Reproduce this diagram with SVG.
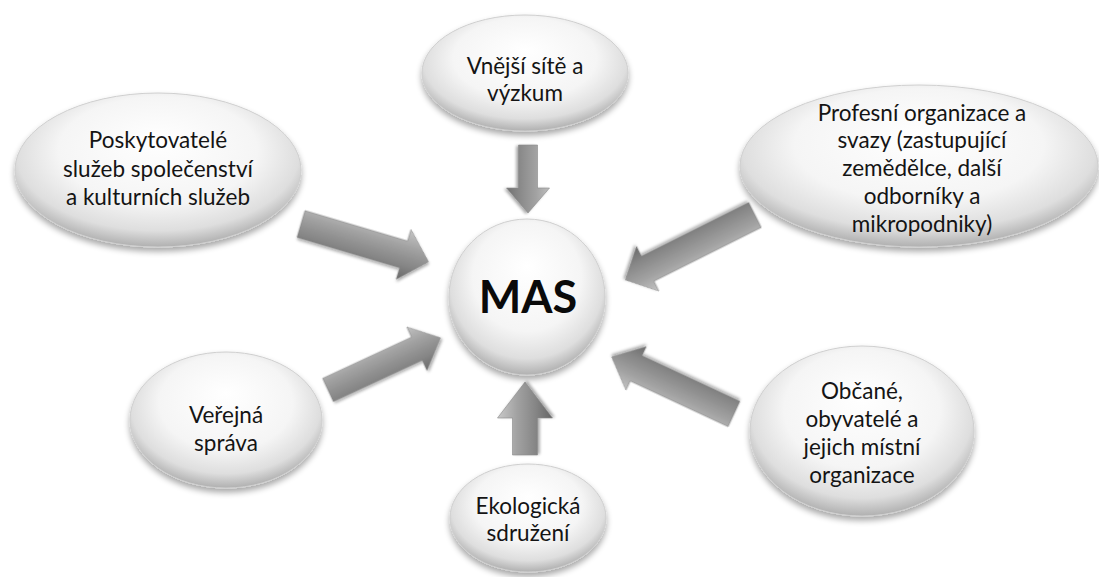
<svg xmlns="http://www.w3.org/2000/svg" width="1099" height="577" viewBox="0 0 1099 577">
<defs>
<radialGradient id="eg" cx="50%" cy="42%" r="58%" fx="50%" fy="30%">
<stop offset="0" stop-color="#ffffff"/>
<stop offset="0.6" stop-color="#f5f5f5"/>
<stop offset="0.85" stop-color="#dedede"/>
<stop offset="1" stop-color="#b0b0b0"/>
</radialGradient>
<linearGradient id="ag" gradientUnits="userSpaceOnUse" x1="0" y1="-27" x2="0" y2="27">
<stop offset="0" stop-color="#c8c8c8"/>
<stop offset="0.35" stop-color="#a2a2a2"/>
<stop offset="0.7" stop-color="#858585"/>
<stop offset="1" stop-color="#666666"/>
</linearGradient>
<filter id="sh" x="-20%" y="-20%" width="140%" height="150%">
<feGaussianBlur in="SourceAlpha" stdDeviation="3"/>
<feOffset dx="0" dy="4" result="b"/>
<feComponentTransfer><feFuncA type="linear" slope="0.35"/></feComponentTransfer>
<feMerge><feMergeNode/><feMergeNode in="SourceGraphic"/></feMerge>
</filter>
<filter id="ash" x="-20%" y="-40%" width="140%" height="180%">
<feGaussianBlur in="SourceAlpha" stdDeviation="1.5"/>
<feOffset dx="1" dy="2"/>
<feComponentTransfer><feFuncA type="linear" slope="0.35"/></feComponentTransfer>
<feMerge><feMergeNode/><feMergeNode in="SourceGraphic"/></feMerge>
</filter>
</defs>
<style>
.node ellipse, .node circle { fill: url(#eg); stroke: #cfcfcf; stroke-width: 1; filter: url(#sh); }
.lbl { font-family: Lato, "Liberation Sans", sans-serif; font-size: 22.5px; fill: #141414; text-anchor: middle; }
.mas { font-family: Lato, "Liberation Sans", sans-serif; font-size: 45px; font-weight: bold; fill: #0a0a0a; text-anchor: middle; }
.arr { fill: url(#ag); stroke: #8a8a8a; stroke-width: 0.6; filter: url(#ash); }
</style>
<rect width="1099" height="577" fill="#ffffff"/>

<g id="connectors">
<path class="arr" transform="translate(528,145) rotate(90)" d="M0,-9.5 L43,-9.5 L43,-21.5 L68,0 L43,21.5 L43,9.5 L0,9.5 Z"/>
<path class="arr" transform="translate(301,224) rotate(16.5)" d="M0,-14 L107,-14 L107,-26 L133,0 L107,26 L107,14 L0,14 Z"/>
<path class="arr" transform="translate(755,215) rotate(153.4)" d="M0,-14 L120,-14 L120,-25 L145,0 L120,25 L120,14 L0,14 Z"/>
<path class="arr" transform="translate(328,390) rotate(-24.9)" d="M0,-12.8 L98,-12.8 L98,-24 L124,0 L98,24 L98,12.8 L0,12.8 Z"/>
<path class="arr" transform="translate(734,414) rotate(205)" d="M0,-14 L108,-14 L108,-24 L135,0 L108,24 L108,14 L0,14 Z"/>
<path class="arr" transform="translate(525,455) rotate(-90)" d="M0,-12.5 L37,-12.5 L37,-27.5 L73,0 L37,27.5 L37,12.5 L0,12.5 Z"/>
</g>

<g id="node-mas" class="node">
<circle cx="527" cy="297" r="78"/>
<text class="mas" x="528" y="313">MAS</text>
</g>

<g id="node-vnejsi" class="node">
<ellipse cx="525" cy="73" rx="103" ry="58"/>
<text class="lbl" x="525" y="74">Vnější sítě a</text>
<text class="lbl" x="525" y="101">výzkum</text>
</g>

<g id="node-poskytovatele" class="node">
<ellipse cx="158" cy="170" rx="143" ry="77"/>
<text class="lbl" x="158" y="148">Poskytovatelé</text>
<text class="lbl" x="158" y="177">služeb společenství</text>
<text class="lbl" x="158" y="205">a kulturních služeb</text>
</g>

<g id="node-profesni" class="node">
<ellipse cx="919" cy="166" rx="179" ry="81"/>
<text class="lbl" x="922" y="121">Profesní organizace a</text>
<text class="lbl" x="922" y="148">svazy (zastupující</text>
<text class="lbl" x="922" y="176">zemědělce, další</text>
<text class="lbl" x="922" y="204">odborníky a</text>
<text class="lbl" x="922" y="232">mikropodniky)</text>
</g>

<g id="node-verejna" class="node">
<ellipse cx="226" cy="420" rx="96" ry="68"/>
<text class="lbl" x="226" y="423">Veřejná</text>
<text class="lbl" x="226" y="451">správa</text>
</g>

<g id="node-obcane" class="node">
<ellipse cx="862" cy="431" rx="112" ry="85"/>
<text class="lbl" x="862" y="399">Občané,</text>
<text class="lbl" x="862" y="427">obyvatelé a</text>
<text class="lbl" x="862" y="455">jejich místní</text>
<text class="lbl" x="862" y="483">organizace</text>
</g>

<g id="node-ekologicka" class="node">
<ellipse cx="528" cy="518" rx="78" ry="54"/>
<text class="lbl" x="528" y="514">Ekologická</text>
<text class="lbl" x="528" y="541">sdružení</text>
</g>
</svg>
